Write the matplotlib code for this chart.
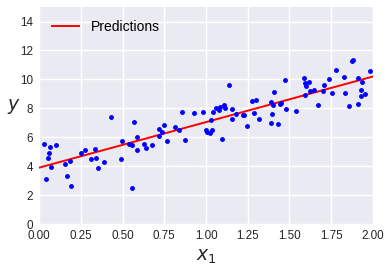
import numpy as np
import matplotlib
matplotlib.use("Agg")
import matplotlib.pyplot as plt

# data
X = [0.032, 0.052, 0.044, 0.062, 0.068, 0.074, 0.104, 0.158, 0.170, 0.188,
     0.194, 0.253, 0.277, 0.313, 0.337, 0.343, 0.355, 0.391, 0.433, 0.493,
     0.499, 0.541, 0.559, 0.559, 0.571, 0.589, 0.589, 0.631, 0.643, 0.679,
     0.720, 0.720, 0.738, 0.750, 0.768, 0.816, 0.840, 0.858, 0.876, 0.930,
     0.984, 1.000, 1.008, 1.026, 1.032, 1.038, 1.044, 1.062, 1.080, 1.086,
     1.098, 1.110, 1.116, 1.140, 1.158, 1.158, 1.182, 1.224, 1.230, 1.248,
     1.278, 1.290, 1.302, 1.320, 1.391, 1.391, 1.397, 1.403, 1.409, 1.433,
     1.445, 1.451, 1.475, 1.481, 1.541, 1.589, 1.595, 1.595, 1.601, 1.619,
     1.625, 1.649, 1.673, 1.703, 1.709, 1.739, 1.757, 1.781, 1.829, 1.835,
     1.859, 1.877, 1.883, 1.913, 1.913, 1.931, 1.931, 1.937, 1.955, 1.985]
y = [5.52, 4.55, 3.10, 4.90, 5.31, 3.93, 5.45, 4.12, 3.30, 4.34,
     2.61, 4.90, 5.11, 4.48, 5.18, 4.55, 3.86, 4.27, 7.39, 4.48,
     5.73, 5.52, 2.47, 5.45, 7.05, 6.01, 5.11, 5.52, 5.25, 5.45,
     6.56, 6.08, 6.35, 6.84, 5.73, 6.70, 6.49, 7.74, 5.80, 7.67,
     7.74, 6.51, 6.35, 6.28, 7.19, 6.49, 7.74, 8.02, 7.90, 8.09,
     5.87, 8.23, 8.02, 9.61, 7.95, 7.26, 7.60, 7.53, 7.53, 6.77,
     8.50, 7.67, 8.57, 7.26, 8.43, 6.98, 7.60, 8.23, 9.13, 6.91,
     8.29, 8.36, 9.96, 7.95, 7.81, 10.10, 9.75, 8.92, 9.54, 9.82,
     9.20, 9.27, 8.23, 9.20, 9.61, 10.03, 9.06, 10.65, 10.17, 9.06,
     8.16, 11.27, 11.34, 10.10, 8.29, 9.27, 8.85, 9.82, 8.99, 10.58]

X_new = [0, 2]
y_predict = [3.90, 10.20]

plt.rcParams['font.family'] = ['Liberation Sans', 'DejaVu Sans']

fig = plt.figure(figsize=(3.92, 2.71), dpi=100)
ax = fig.add_axes([0.0995, 0.173, 0.852, 0.801])
ax.set_facecolor("#EAEAF2")
for s in ax.spines.values():
    s.set_visible(False)
ax.grid(True, color="white", linewidth=1.0)
ax.set_axisbelow(True)

ax.plot(X_new, y_predict, "r-", linewidth=1.4, label="Predictions")
ax.plot(X, y, "b.", markersize=5)

ax.set_xlim(0, 2)
ax.set_ylim(0, 15)
ax.set_xticks(np.arange(0, 2.01, 0.25))
ax.set_yticks(np.arange(0, 15, 2))
ax.tick_params(length=0, labelsize=8.4, labelcolor="#262626", pad=4.5)
ax.set_xlabel("$x_1$", fontsize=13.5, color="#262626", labelpad=4)
ax.set_ylabel("$y$", rotation=0, fontsize=13.5, color="#262626", labelpad=4)
ax.legend(loc="upper left", fontsize=10, frameon=False)

fig.savefig("out.png", dpi=100)
